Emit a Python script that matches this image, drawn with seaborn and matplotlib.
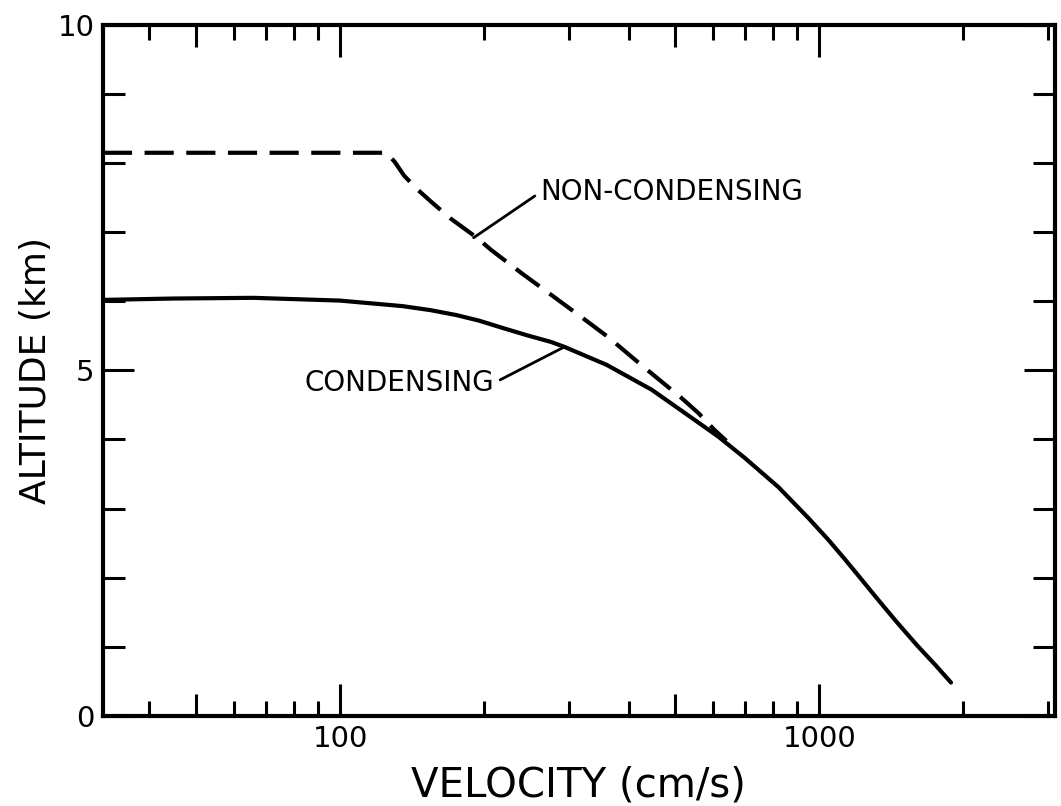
import seaborn as sns
import matplotlib.pyplot as plt
from matplotlib.ticker import FixedLocator, NullFormatter

# curves (velocity in cm/s, altitude in km)
cond_velocity = [32, 45, 66, 100, 135, 155, 175, 195, 217, 245, 276, 294, 360, 447, 520, 616, 700,
                 822, 950, 1044, 1130, 1200, 1327, 1450, 1600, 1750, 1884]
cond_altitude = [6.02, 6.04, 6.05, 6.01, 5.93, 5.87, 5.80, 5.72, 5.62, 5.51, 5.41, 5.34, 5.08, 4.72, 4.40, 4.04, 3.73,
                 3.31, 2.86, 2.55, 2.27, 2.05, 1.68, 1.36, 1.02, 0.73, 0.48]

noncond_velocity = [32, 125, 130, 136, 145, 155, 170, 193, 207, 240, 280, 322, 363, 430, 516, 560, 604, 640]
noncond_altitude = [8.15, 8.15, 8.02, 7.82, 7.62, 7.44, 7.20, 6.92, 6.74, 6.40, 6.06, 5.75, 5.48, 5.05, 4.60, 4.38, 4.14, 3.98]

x_major = [50, 100, 500, 1000]
x_major_labels = ['', '100', '', '1000']
x_minor = [40, 60, 70, 80, 90, 200, 300, 400, 600, 700, 800, 900, 2000, 3000]
y_major = [0, 5, 10]
y_minor = [1, 2, 3, 4, 6, 7, 8, 9]

sns.set_style('white')
plt.rcParams['font.family'] = ['DejaVu Sans']
plt.rcParams['text.color'] = 'black'
plt.rcParams['axes.labelcolor'] = 'black'
plt.rcParams['xtick.color'] = 'black'
plt.rcParams['ytick.color'] = 'black'

fig = plt.figure(figsize=(10.61, 8.06), dpi=100)
ax = fig.add_axes([0.097, 0.112, 0.897, 0.857])

sns.lineplot(x=noncond_velocity, y=noncond_altitude, ax=ax, color='black', lw=3,
             linestyle=(0, (7, 3)), estimator=None, sort=False)
sns.lineplot(x=cond_velocity, y=cond_altitude, ax=ax, color='black', lw=3,
             estimator=None, sort=False)

ax.set_xscale('log')
ax.set_xlim(32, 3100)
ax.set_ylim(0, 10)

ax.xaxis.set_major_locator(FixedLocator(x_major))
ax.set_xticklabels(x_major_labels)
ax.xaxis.set_minor_locator(FixedLocator(x_minor))
ax.xaxis.set_minor_formatter(NullFormatter())
ax.yaxis.set_major_locator(FixedLocator(y_major))
ax.set_yticklabels([str(v) for v in y_major])
ax.yaxis.set_minor_locator(FixedLocator(y_minor))

ax.tick_params(which='both', direction='in', bottom=True, left=True, top=True, right=True,
               color='black', width=2.2)
ax.tick_params(axis='x', which='major', length=23, labelsize=21, pad=7)
ax.tick_params(axis='x', which='minor', length=11)
ax.tick_params(axis='y', which='major', length=22, labelsize=21, pad=6)
ax.tick_params(axis='y', which='minor', length=16)

# the 50 and 500 ticks are drawn a bit shorter than the decades
for i in (0, 2):
    t = ax.xaxis.get_major_ticks()[i]
    t.tick1line.set_markersize(16)
    t.tick2line.set_markersize(16)

for s in ax.spines.values():
    s.set_linewidth(3)
    s.set_color('black')

ax.set_xlabel('VELOCITY (cm/s)', fontsize=29, labelpad=9)
ax.set_ylabel('ALTITUDE (km)', fontsize=26, labelpad=3)

ax.annotate('NON-CONDENSING', xy=(190, 6.92), xytext=(262, 7.58), ha='left', va='center',
            fontsize=20, arrowprops=dict(arrowstyle='-', lw=2, color='black', relpos=(0, 0.5), shrinkB=0))
ax.annotate('CONDENSING', xy=(294, 5.34), xytext=(210, 4.82), ha='right', va='center',
            fontsize=20, arrowprops=dict(arrowstyle='-', lw=2, color='black', relpos=(1, 0.5), shrinkB=0))

plt.savefig('out.png', dpi=100)
plt.close()
